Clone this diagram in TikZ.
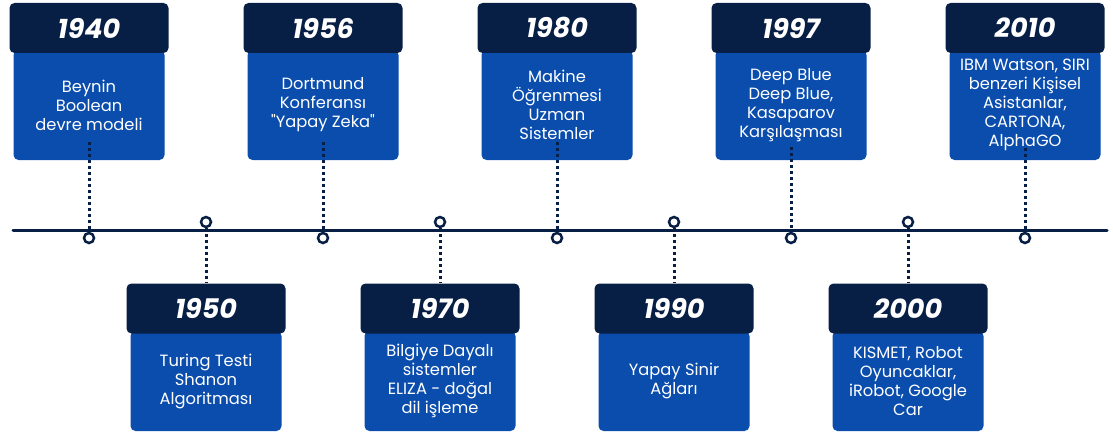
\documentclass[tikz,border=0pt]{standalone}
\usepackage{fontspec}
\setmainfont{Poppins}
\setmonofont{Poppins}
\newcommand{\sq}{{\ttfamily"}}
\definecolor{navy}{HTML}{081F45}
\definecolor{bodyblue}{HTML}{0A4DAD}
\begin{document}
\begin{tikzpicture}[x=1pt,y=-1pt,
  header/.style={fill=navy, rounded corners=5pt, minimum width=159pt, minimum height=50pt,
    text=white, font=\fontsize{27}{30}\selectfont\bfseries\itshape, inner sep=0pt},
  bodybox/.style={fill=bodyblue, rounded corners=5pt, minimum width=151pt,
    text=white, font=\fontsize{16.3}{19}\selectfont, align=center, inner sep=0pt},
  topbody/.style={bodybox, minimum height=110pt},
  botbody/.style={bodybox, minimum height=100pt},
  dot/.style={circle, draw=navy, fill=white, line width=2.5pt, minimum size=10pt, inner sep=0pt},
  dotline/.style={draw=navy, line width=3pt, dash pattern=on 3pt off 3pt},
  axis/.style={draw=navy, line width=3pt, line cap=round}]
\useasboundingbox (0,0) rectangle (1113,436);
% top items
\foreach \i/\x/\s/\yr/\txt in {
  1/89/142/1940/{Beynin\\Boolean\\devre modeli},
  3/323/142/1956/{Dortmund\\Konferansı\\\sq Yapay Zeka\sq},
  5/557/142/1980/{Makine\\Öğrenmesi\\Uzman\\Sistemler},
  7/791/147/1997/{Deep Blue\\Deep Blue,\\Kasaparov\\Karşılaşması},
  9/1025/148/2010/{IBM Watson, SIRI\\benzeri Kişisel\\Asistanlar,\\CARTONA,\\AlphaGO}}{
  \node[topbody] (b\i) at (\x,105) {\txt};
  \node[header] (h\i) at (\x,28) {\yr};
  \coordinate (d\i) at (\x,\s);
}
% bottom items
\foreach \i/\x/\yr/\txt in {
  2/206/1950/{Turing Testi\\Shanon\\Algoritması},
  4/440/1970/{Bilgiye Dayalı\\sistemler\\ELIZA - doğal\\dil işleme},
  6/674/1990/{Yapay Sinir\\Ağları},
  8/908/2000/{KISMET, Robot\\Oyuncaklar,\\iRobot, Google\\Car}}{
  \node[botbody] (b\i) at (\x,381) {\txt};
  \node[header] (h\i) at (\x,308.5) {\yr};
}
% timeline
\coordinate (tlA) at (13,230);
\coordinate (tlB) at (1107,230);
\draw[axis] (tlA) -- (tlB);
% circles and dotted connectors
\foreach \i/\x in {1/89,3/323,5/557,7/791,9/1025}{
  \node[dot] (c\i) at (\x,238) {};
  \draw[dotline] (d\i) -- (c\i.north);
}
\foreach \i/\x in {2/206,4/440,6/674,8/908}{
  \node[dot] (c\i) at (\x,222) {};
  \draw[dotline] (c\i.south) -- (h\i.north);
}
\end{tikzpicture}
\end{document}
